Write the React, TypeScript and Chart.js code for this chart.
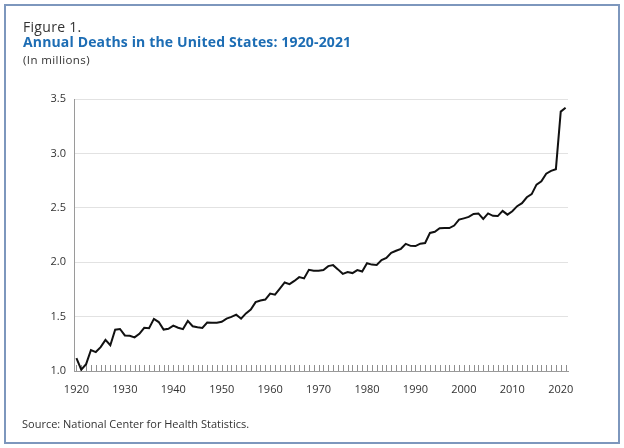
import React, { useEffect, useRef } from 'react';
import { Chart, registerables } from 'chart.js';

Chart.register(...registerables);

const years = [
  '1920', '1921', '1922', '1923', '1924', '1925', '1926', '1927', '1928', '1929',
  '1930', '1931', '1932', '1933', '1934', '1935', '1936', '1937', '1938', '1939',
  '1940', '1941', '1942', '1943', '1944', '1945', '1946', '1947', '1948', '1949',
  '1950', '1951', '1952', '1953', '1954', '1955', '1956', '1957', '1958', '1959',
  '1960', '1961', '1962', '1963', '1964', '1965', '1966', '1967', '1968', '1969',
  '1970', '1971', '1972', '1973', '1974', '1975', '1976', '1977', '1978', '1979',
  '1980', '1981', '1982', '1983', '1984', '1985', '1986', '1987', '1988', '1989',
  '1990', '1991', '1992', '1993', '1994', '1995', '1996', '1997', '1998', '1999',
  '2000', '2001', '2002', '2003', '2004', '2005', '2006', '2007', '2008', '2009',
  '2010', '2011', '2012', '2013', '2014', '2015', '2016', '2017', '2018', '2019',
  '2020', '2021',
];

// Annual deaths, in millions
const deaths = [
  1.118, 1.012, 1.063, 1.193, 1.174, 1.219, 1.286, 1.237, 1.379, 1.386,
  1.327, 1.323, 1.309, 1.342, 1.397, 1.393, 1.479, 1.450, 1.381, 1.388,
  1.417, 1.398, 1.385, 1.460, 1.411, 1.402, 1.396, 1.445, 1.444, 1.444,
  1.452, 1.482, 1.497, 1.518, 1.481, 1.529, 1.564, 1.633, 1.648, 1.657,
  1.712, 1.702, 1.757, 1.814, 1.798, 1.828, 1.863, 1.851, 1.930, 1.922,
  1.921, 1.928, 1.964, 1.973, 1.934, 1.893, 1.909, 1.900, 1.928, 1.914,
  1.990, 1.978, 1.975, 2.019, 2.039, 2.086, 2.105, 2.123, 2.168, 2.150,
  2.148, 2.170, 2.176, 2.269, 2.279, 2.312, 2.315, 2.314, 2.337, 2.391,
  2.403, 2.416, 2.443, 2.448, 2.398, 2.448, 2.426, 2.424, 2.472, 2.437,
  2.468, 2.515, 2.543, 2.597, 2.626, 2.713, 2.744, 2.814, 2.839, 2.855,
  3.384, 3.420,
];

const xLabelYears = ['1920', '1930', '1940', '1950', '1960', '1970', '1980', '1990', '2000', '2010', '2020'];
const yTicks = [1.0, 1.5, 2.0, 2.5, 3.0, 3.5];

const FONT = '"Open Sans", "DejaVu Sans", sans-serif';

// Small inward tick marks on the x axis, one per year, placed by the category scale
const innerTicks = {
  id: 'innerTicks',
  beforeDatasetsDraw(chart: any) {
    const xs = chart.scales.x;
    const ctx = chart.ctx;
    const area = chart.chartArea;
    const bottom = area.bottom;
    const n = years.length;
    const step = (area.right - area.left) / n;
    ctx.save();
    ctx.fillStyle = '#8f8f8f';
    for (let i = 0; i < n; i++) {
      let px = xs.getPixelForValue(i);
      if (!Number.isFinite(px)) px = area.left + step * (i + 0.5);
      ctx.fillRect(Math.round(px), bottom - 6, 1, 6);
    }
    ctx.restore();
  },
};

export default function App() {
  const canvasRef = useRef<HTMLCanvasElement | null>(null);

  useEffect(() => {
    const canvas = canvasRef.current;
    if (!canvas) return;
    const chart = new Chart(canvas, {
      type: 'line',
      data: {
        labels: years,
        datasets: [
          {
            data: deaths,
            borderColor: '#111111',
            borderWidth: 2,
            pointRadius: 0,
            tension: 0,
            fill: false,
          },
        ],
      },
      options: {
        animation: false,
        responsive: false,
        maintainAspectRatio: false,
        devicePixelRatio: 1,
        layout: { padding: { left: 0, right: 56, top: 99, bottom: 40 } },
        plugins: {
          legend: { display: false },
          tooltip: { enabled: false },
          title: { display: false },
        },
        scales: {
          x: {
            type: 'category',
            offset: true,
            grid: { display: false, drawTicks: false },
            border: { display: true, color: '#9a9a9a', width: 1 },
            ticks: {
              autoSkip: false,
              maxRotation: 0,
              minRotation: 0,
              padding: 12,
              color: '#333333',
              font: { family: FONT, size: 11 },
              callback: (_v: any, i: number) => (xLabelYears.includes(years[i]) ? years[i] : ''),
            },
            afterFit: (s: any) => {
              s.height = 37;
            },
          },
          y: {
            min: 1,
            max: 3.5,
            afterBuildTicks: (scale: any) => {
              scale.ticks = yTicks.map((v) => ({ value: v }));
            },
            grid: { color: '#e2e2e2', drawTicks: false, lineWidth: 1 },
            border: { display: true, color: '#9a9a9a', width: 1 },
            ticks: {
              padding: 8,
              color: '#333333',
              font: { family: FONT, size: 11 },
              callback: (v: any) => Number(v).toFixed(1),
            },
            afterFit: (s: any) => {
              s.width = 74;
            },
          },
        },
      },
      plugins: [innerTicks],
    });
    return () => chart.destroy();
  }, []);

  const text = (extra: React.CSSProperties): React.CSSProperties => ({
    position: 'absolute',
    whiteSpace: 'nowrap',
    lineHeight: 1,
    fontFamily: FONT,
    color: '#333333',
    ...extra,
  });

  return (
    <div style={{ position: 'absolute', left: 0, top: 0, width: 624, height: 448, background: '#ffffff', overflow: 'hidden' }}>
      <div
        style={{
          position: 'absolute',
          left: 4,
          top: 4,
          width: 616,
          height: 440,
          boxSizing: 'border-box',
          border: '2px solid #7d97bd',
        }}
      />
      <canvas ref={canvasRef} width={624} height={448} style={{ position: 'absolute', left: 0, top: 0, width: 624, height: 448 }} />
      <div style={text({ left: 23, top: 20, fontSize: 14, letterSpacing: 0.3 })}>Figure 1.</div>
      <div style={text({ left: 23, top: 35, fontSize: 14, fontWeight: 700, color: '#1d6db4', letterSpacing: 0.15 })}>
        Annual Deaths in the United States: 1920-2021
      </div>
      <div style={text({ left: 23, top: 54, fontSize: 11.5, letterSpacing: 0.4 })}>(In millions)</div>
      <div style={text({ left: 22, top: 418, fontSize: 11 })}>Source: National Center for Health Statistics.</div>
    </div>
  );
}
